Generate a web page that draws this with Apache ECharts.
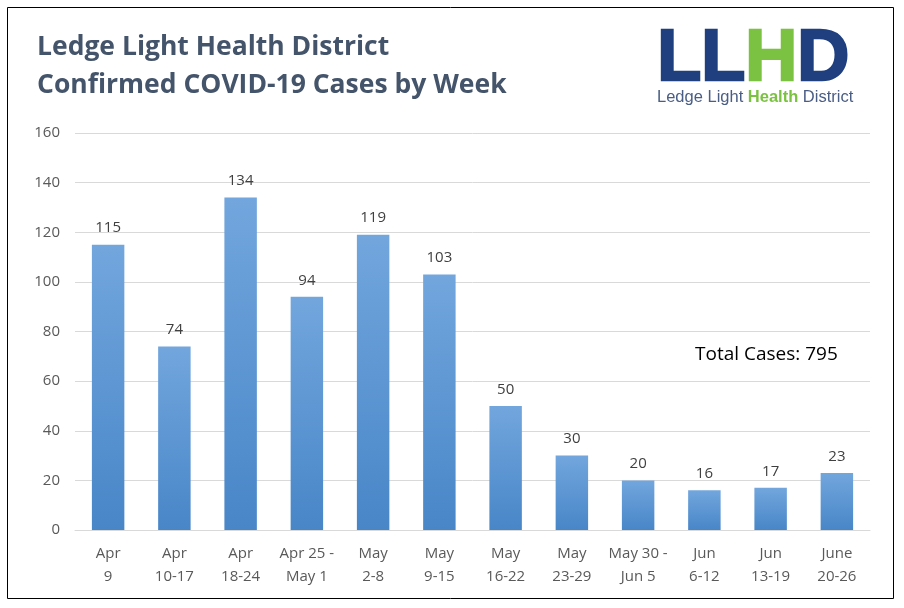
<!DOCTYPE html>
<html>
<head>
<meta charset="utf-8">
<script src="https://cdn.jsdelivr.net/npm/echarts@6/dist/echarts.min.js"></script>
<style>
  html, body { margin: 0; padding: 0; background: #fff; }
  #container { width: 904px; height: 608px; }
</style>
</head>
<body>
<div id="container"></div>
<script>
var weeks = ["Apr\n9", "Apr\n10-17", "Apr\n18-24", "Apr 25 -\nMay 1", "May\n2-8", "May\n9-15",
             "May\n16-22", "May\n23-29", "May 30 -\nJun 5", "Jun\n6-12", "Jun\n13-19", "June\n20-26"];
var cases = [115, 74, 134, 94, 119, 103, 50, 30, 20, 16, 17, 23];
var totalCases = 795;

var dom = document.getElementById("container");
var myChart = echarts.init(dom, null, { renderer: "canvas" });

var navy = "#1f3f7f";
var green = "#7cc242";

var option = {
    animation: false,
    backgroundColor: "#ffffff",
    grid: { left: 75, right: 34, top: 133, bottom: 78 },
    xAxis: {
        type: "category",
        data: weeks,
        axisTick: { show: false },
        axisLine: { lineStyle: { color: "#d9d9d9" } },
        axisLabel: {
            color: "#595959",
            fontSize: 15,
            lineHeight: 23,
            margin: 12,
            fontFamily: "Open Sans",
            interval: 0
        }
    },
    yAxis: {
        type: "value",
        min: 0,
        max: 160,
        interval: 20,
        axisLabel: { color: "#595959", fontSize: 15, margin: 15, fontFamily: "Open Sans" },
        splitLine: { lineStyle: { color: "#d9d9d9" } }
    },
    series: [{
        type: "bar",
        data: cases,
        barWidth: "49%",
        itemStyle: {
            color: new echarts.graphic.LinearGradient(0, 0, 0, 1, [
                { offset: 0, color: "#72a6dd" },
                { offset: 1, color: "#4886c8" }
            ])
        },
        label: {
            show: true,
            position: "top",
            distance: 9,
            color: "#404040",
            fontSize: 15,
            fontFamily: "Open Sans"
        }
    }],
    graphic: [
        {
            type: "rect",
            shape: { x: 7.5, y: 7.5, width: 886, height: 591 },
            style: { fill: null, stroke: "#000000", lineWidth: 1 },
            silent: true
        },
        {
            type: "text",
            left: 37,
            top: 28,
            style: {
                text: "Ledge Light Health District\nConfirmed COVID-19 Cases by Week",
                font: "bold 26.5px 'Open Sans'",
                lineHeight: 38,
                fill: "#44546a"
            }
        },
        {
            type: "text",
            left: 656,
            top: 23,
            style: {
                text: "{n|LL}{g|H}{n|D}",
                rich: {
                    n: { fill: navy, stroke: navy, lineWidth: 2.5, font: "bold 72px 'Liberation Sans'" },
                    g: { fill: green, stroke: green, lineWidth: 2.5, font: "bold 72px 'Liberation Sans'" }
                }
            }
        },
        {
            type: "text",
            left: 657,
            top: 89,
            style: {
                text: "{a|Ledge Light }{h|Health}{a| District}",
                rich: {
                    a: { fill: "#4a5d85", font: "16.5px 'Liberation Sans'" },
                    h: { fill: green, font: "bold 16.5px 'Liberation Sans'" }
                }
            }
        },
        {
            type: "text",
            left: 695,
            top: 345,
            style: {
                text: "Total Cases: " + totalCases,
                font: "19px 'Open Sans'",
                fill: "#000000"
            }
        }
    ]
};

myChart.setOption(option);
window.addEventListener("resize", myChart.resize);
</script>
</body>
</html>
